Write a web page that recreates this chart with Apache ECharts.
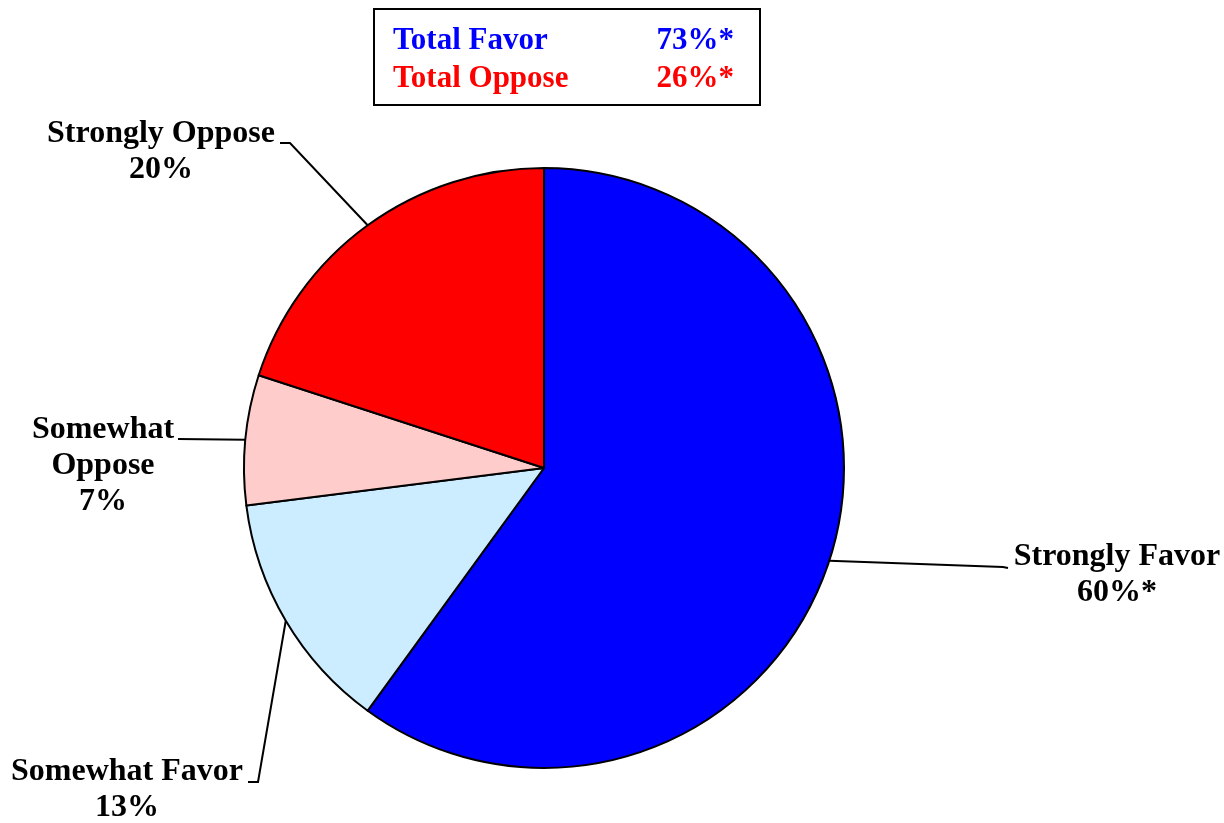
<!DOCTYPE html>
<html>
<head>
<meta charset="utf-8">
<script src="https://cdn.jsdelivr.net/npm/echarts@6/dist/echarts.min.js"></script>
<style>
  html, body { margin: 0; padding: 0; background: #fff; }
  #chart { width: 1224px; height: 823px; }
</style>
</head>
<body>
<div id="chart"></div>
<script>
// slices, clockwise from 12 o'clock
var names = ['Strongly Favor', 'Somewhat Favor', 'Somewhat Oppose', 'Strongly Oppose'];
var labelNames = ['Strongly Favor', 'Somewhat Favor', 'Somewhat\nOppose', 'Strongly Oppose'];
var values = [60, 13, 7, 20];
var valueTags = ['60%*', '13%', '7%', '20%'];
var colors = ['#0000ff', '#ccecff', '#ffcccc', '#ff0000'];

// summary box
var totalNames = ['Total Favor', 'Total Oppose'];
var totalTags = ['73%*', '26%*'];
var totalColors = ['#0000ff', '#ff0000'];

// where the labels sit and where their leader lines bend
var labelPos = [[1117, 575], [127, 790], [103, 466], [161, 152]];
var lineBends = [
  [[1003, 567], [1008, 568]],
  [[258, 782], [248, 782]],
  [[178, 439], [178, 439]],
  [[290, 143], [280, 143]]
];

var font = '"Liberation Serif", "Times New Roman", serif';

var pieData = names.map(function (n, i) {
  return { name: n, value: values[i], itemStyle: { color: colors[i] } };
});

var boxText = [];
totalNames.forEach(function (t, i) {
  boxText.push({
    type: 'text', left: 393, top: 25 + i * 38,
    style: { text: t, fill: totalColors[i], font: 'bold 31px ' + font }
  });
  boxText.push({
    type: 'text', right: 1224 - 734, top: 25 + i * 38,
    style: { text: totalTags[i], fill: totalColors[i], font: 'bold 31px ' + font }
  });
});

var myChart = echarts.init(document.getElementById('chart'));
var option = {
  backgroundColor: '#fff',
  animation: false,
  graphic: [
    {
      type: 'rect', left: 373, top: 8,
      shape: { width: 386, height: 96 },
      style: { fill: '#fff', stroke: '#000', lineWidth: 2 }
    }
  ].concat(boxText),
  series: [
    {
      type: 'pie',
      center: [544, 468],
      radius: 300,
      startAngle: 90,
      clockwise: true,
      data: pieData,
      itemStyle: { borderColor: '#000', borderWidth: 2 },
      label: {
        show: true,
        position: 'outside',
        overflow: 'none',
        fontFamily: font,
        fontWeight: 'bold',
        fontSize: 32,
        lineHeight: 36,
        color: '#000',
        align: 'center',
        formatter: function (p) {
          return labelNames[p.dataIndex] + '\n' + valueTags[p.dataIndex];
        }
      },
      labelLine: {
        show: true,
        lineStyle: { color: '#000', width: 2 }
      },
      labelLayout: function (params) {
        var i = params.dataIndex;
        var start = params.labelLinePoints ? params.labelLinePoints[0] : lineBends[i][0];
        return {
          x: labelPos[i][0],
          y: labelPos[i][1],
          align: 'center',
          verticalAlign: 'middle',
          width: 300,
          labelLinePoints: [start, lineBends[i][0], lineBends[i][1]]
        };
      },
      emphasis: { disabled: true }
    }
  ]
};
myChart.setOption(option);
</script>
</body>
</html>
